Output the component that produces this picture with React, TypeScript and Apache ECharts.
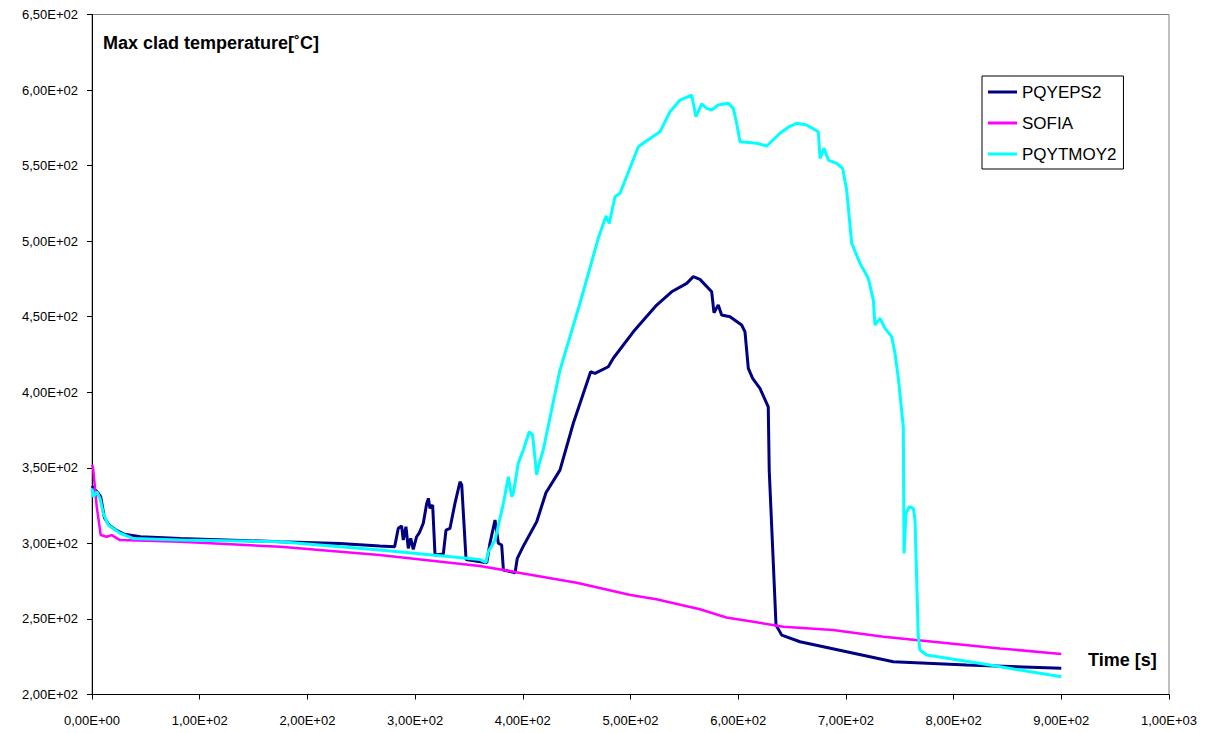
import React, { useEffect, useRef } from "react";
import * as echarts from "echarts";

// ---- data (time [s], max clad temperature [°C]) ----
const epsTime = [0, 2, 5, 8, 11.5, 16, 22, 30, 45, 82, 175, 230, 267, 281, 284.4, 287.5, 289, 291.5, 293.7, 295.9, 298.3, 301.4, 303.9, 307.6, 310.8, 312.3, 313.8, 316.3, 318.5, 326.2, 328.7, 332.4, 337, 341.7, 343.3, 347.3, 366.5, 369.5, 374.2, 377.3, 380.4, 382, 392.8, 394.9, 400.5, 412.9, 421.5, 434.5, 446.9, 463, 467, 479.4, 484, 502.6, 524.3, 538.2, 552.2, 558.3, 564.5, 575.4, 577.5, 581.5, 584.6, 592.4, 603.2, 606.3, 609.4, 613.4, 620.2, 627.9, 628.8, 634.1, 635.1, 640.4, 657.4, 700.7, 744, 812, 900];
const epsTemp = [338, 336, 334, 331, 317, 312, 309, 306, 304.4, 303.3, 301.1, 300, 298.2, 297.8, 310, 311.5, 302.2, 311, 296.7, 303.3, 296, 304.4, 307, 313.3, 326.5, 329.8, 323.2, 325.4, 292.3, 293, 308.8, 310, 326.5, 340.8, 338.6, 289.4, 287.2, 300.1, 315.5, 300.1, 298.9, 282.4, 280.6, 290.1, 298.2, 314.3, 333.5, 348.5, 379.5, 413.6, 412.5, 416.9, 422.5, 440, 457.7, 466.5, 472.1, 476.5, 474.7, 466.5, 452.7, 457.7, 451.1, 450, 444.5, 440, 415.8, 409.2, 402.6, 390.4, 348.5, 262.5, 246, 239.3, 234.9, 228.3, 221.7, 219.5, 217.3];

const sofiaTime = [0, 1, 4.4, 8.1, 13.6, 18.3, 26, 82, 175, 267, 360, 391, 450, 500, 524, 564.5, 589, 614, 642, 688, 735, 781, 843, 900];
const sofiaTemp = [352, 350, 324.3, 305.5, 304.4, 305.5, 302.2, 301.1, 297.8, 292.3, 285, 281.3, 274, 265.8, 263, 256.4, 251, 248.2, 244.8, 242.7, 238.2, 234.9, 230.5, 226.8];

const moyTime = [0, 1.2, 4.4, 7.4, 10.5, 15.1, 26, 38, 82, 175, 267, 360, 365.8, 368, 374.2, 382, 386.6, 389.7, 391.2, 395.8, 400.5, 406, 409.1, 412.9, 415.3, 419, 434.5, 453.1, 467, 470.1, 477.3, 480.3, 485.6, 490.3, 507.3, 515.1, 527.4, 536.7, 546, 556.8, 560.8, 566.1, 570.7, 575.4, 581.5, 590.8, 595.5, 598.6, 601.7, 617.2, 626.5, 638.8, 646.6, 654.3, 663.6, 674.4, 676, 679.7, 683.7, 691.5, 697, 700.7, 705.4, 713.1, 720.8, 725.5, 727, 731.7, 736.3, 742.5, 745.6, 748.7, 753.3, 754, 755.8, 758.9, 762.6, 764.2, 767.2, 768.8, 775, 833.8, 861.6, 900];
const moyTemp = [336.4, 330.8, 334.2, 329.8, 319.9, 312.1, 306.7, 303.3, 302.2, 301.1, 295.6, 289.4, 287.4, 294.5, 302.2, 326.5, 344.1, 330.9, 333.1, 353, 361.8, 373.9, 371.7, 345.3, 353, 361.8, 414.7, 458.9, 494.1, 501.9, 516.6, 511.8, 529.4, 531.7, 562.5, 566.5, 572.4, 585.7, 593.4, 596.7, 582.4, 590.8, 587.9, 586.8, 590.1, 591.2, 587.9, 578, 565.8, 564.8, 563, 571.4, 575.4, 578, 576.9, 572.4, 554.8, 561.4, 553.7, 551.5, 548.2, 533.9, 498.6, 485.3, 475.4, 461, 444.5, 448.9, 442.3, 436.8, 425.8, 409.2, 377.2, 293.4, 319.9, 324.3, 323.2, 315.5, 238.2, 229.4, 226.1, 219.5, 216.2, 211.8];

const seriesNames = ["PQYEPS2", "SOFIA", "PQYTMOY2"];
const seriesColors = ["#000080", "#FF00FF", "#00FFFF"];

const fmt = (v: number) => {
  const [m, e] = v.toExponential(2).split("e");
  const sign = e[0];
  const d = e.slice(1).padStart(2, "0");
  return m.replace(".", ",") + "E" + sign + d;
};

const zip = (t: number[], v: number[]) => t.map((x, i) => [x, v[i]]);

export default function App() {
  const ref = useRef<HTMLDivElement>(null);
  useEffect(() => {
    if (!ref.current) return;
    const chart = echarts.init(ref.current, undefined, { renderer: "svg" });
    const font = "Liberation Sans";
    const datasets = [zip(epsTime, epsTemp), zip(sofiaTime, sofiaTemp), zip(moyTime, moyTemp)];
    chart.setOption({
      animation: false,
      backgroundColor: "#ffffff",
      textStyle: { fontFamily: font },
      grid: {
        left: 92,
        right: 43,
        top: 14.5,
        bottom: 38.5,
        show: true,
        borderColor: "#808080",
        borderWidth: 1,
        backgroundColor: "#ffffff",
      },
      xAxis: {
        type: "value",
        min: 0,
        max: 1000,
        interval: 100,
        axisLine: { show: true, onZero: false, lineStyle: { color: "#000", width: 1 } },
        axisTick: { show: true, length: 5, lineStyle: { color: "#000" } },
        axisLabel: { formatter: fmt, color: "#000", fontSize: 13, fontFamily: font, margin: 19 },
        splitLine: { show: false },
      },
      yAxis: {
        type: "value",
        min: 200,
        max: 650,
        interval: 50,
        axisLine: { show: true, lineStyle: { color: "#000", width: 1 } },
        axisTick: { show: true, length: 5, lineStyle: { color: "#000" } },
        axisLabel: { formatter: fmt, color: "#000", fontSize: 13, fontFamily: font, margin: 14 },
        splitLine: { show: false },
      },
      legend: {
        orient: "vertical",
        left: 982,
        top: 76,
        padding: [6, 7, 5, 6],
        itemGap: 11,
        itemWidth: 29,
        itemHeight: 3,
        icon: "rect",
        borderColor: "#000",
        borderWidth: 1,
        backgroundColor: "#fff",
        textStyle: { fontSize: 17, fontFamily: font, color: "#000", lineHeight: 20 },
        data: seriesNames,
      },
      graphic: [
        {
          type: "text",
          left: 103,
          top: 34,
          style: { text: "Max clad temperature[˚C]", font: `bold 18px "${font}"`, fill: "#000" },
        },
        {
          type: "text",
          left: 1088,
          top: 651,
          style: { text: "Time [s]", font: `bold 18px "${font}"`, fill: "#000" },
        },
      ],
      series: seriesNames.map((name, i) => ({
        name,
        type: "line",
        data: datasets[i],
        showSymbol: false,
        symbol: "none",
        color: seriesColors[i],
        lineStyle: { color: seriesColors[i], width: i === 1 ? 2.5 : 3 },
      })),
    });
    return () => chart.dispose();
  }, []);
  return (
    <div
      ref={ref}
      style={{ position: "fixed", left: 0, top: 0, width: 1212, height: 733, background: "#fff" }}
    />
  );
}
